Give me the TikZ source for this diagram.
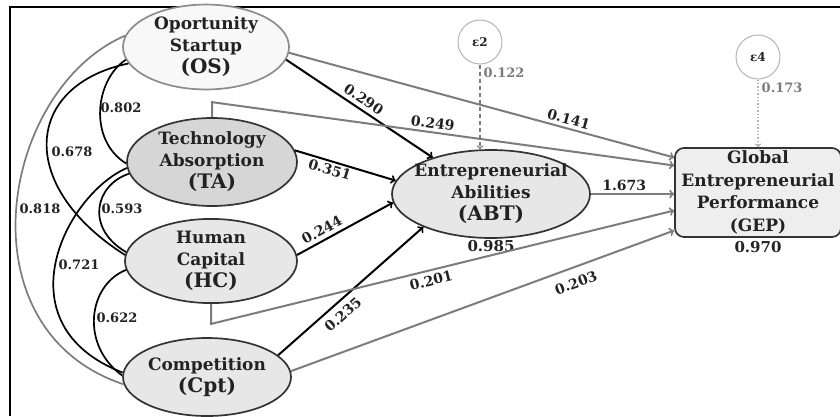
\documentclass[tikz,border=0pt]{standalone}
\usepackage{fontspec}
\setmainfont{DejaVu Serif}
\usetikzlibrary{shapes.geometric,positioning}

\begin{document}
\begin{tikzpicture}[x=1pt, y=-1pt,
  latent/.style={ellipse, draw=darkSEM, line width=1.7pt, inner sep=0pt, align=center,
    text=textSEM, font=\bfseries\fontsize{17}{22}\selectfont},
  effect/.style={->, line width=2pt, black},
  indirect/.style={->, line width=2pt, greySEM},
  corr/.style={line width=1.7pt},
  coef/.style={font=\bfseries\fontsize{14}{14}\selectfont, sloped, inner sep=2pt, text=textSEM},
  rval/.style={font=\bfseries\fontsize{13}{13}\selectfont, inner sep=1pt, text=textSEM},
  err/.style={circle, draw=lightgreySEM, line width=1pt, fill=white, minimum size=44pt,
    inner sep=0pt, text=textSEM, font=\bfseries\fontsize{12}{12}\selectfont}
]

\definecolor{textSEM}{HTML}{222222}
\definecolor{darkSEM}{HTML}{333333}
\definecolor{greySEM}{HTML}{7c7c7c}
\definecolor{midgreySEM}{HTML}{8c8c8c}
\definecolor{lightgreySEM}{HTML}{b5b5b5}
\definecolor{whiteSEM}{HTML}{f8f8f8}
\definecolor{fillTA}{HTML}{d6d6d6}
\definecolor{fillSEM}{HTML}{e7e7e7}
\definecolor{fillGEP}{HTML}{eeeeee}

\useasboundingbox (0,0) rectangle (840,416);
\draw[line width=2pt] (10,416) -- (10,7) -- (840,7);

% constructs
\node[latent, fill=whiteSEM, draw=midgreySEM, minimum width=166pt, minimum height=76pt] (OS) at (206,47)
  {Oportunity\\Startup\\{\fontsize{20}{22}\selectfont (OS)}};
\node[latent, fill=fillTA, minimum width=170pt, minimum height=88pt] (TA) at (212,162)
  {Technology\\Absorption\\{\fontsize{20}{22}\selectfont (TA)}};
\node[latent, fill=fillSEM, minimum width=172pt, minimum height=82pt] (HC) at (211,261)
  {Human\\Capital\\{\fontsize{20}{22}\selectfont (HC)}};
\node[latent, fill=fillSEM, minimum width=168pt, minimum height=78pt] (Cpt) at (207,377)
  {Competition\\{\fontsize{20}{22}\selectfont (Cpt)}};
\node[latent, fill=fillSEM, minimum width=198pt, minimum height=88pt, inner xsep=-12pt] (ABT) at (491,194)
  {Entrepreneurial\\Abilities\\{\fontsize{20}{22}\selectfont (ABT)}};
\node[draw=darkSEM, fill=fillGEP, line width=1.7pt, rounded corners=9pt, align=center, text=textSEM,
  minimum width=166pt, minimum height=89pt, inner sep=2pt,
  font=\bfseries\fontsize{17}{22.5}\selectfont] (GEP) at (758,192.5)
  {Global\\Entrepreneurial\\Performance\\(GEP)};

\node[err] (e2) at (480,42) {ε2};
\node[err] (e4) at (758,57) {ε4};

\node[rval, font=\bfseries\fontsize{15}{15}\selectfont, below=0pt of ABT] (rABT) {0.985};
\node[rval, font=\bfseries\fontsize{15}{15}\selectfont, below=2pt of GEP] (rGEP) {0.970};

% error terms
\draw[->, dash pattern=on 4pt off 3pt, line width=1.4pt, greySEM] (e2.south) -- node[rval, right, pos=0.1, text=greySEM, xshift=2pt] {0.122} (e2.south |- ABT.north);
\draw[->, dotted, line width=1.4pt, lightgreySEM] (e4.south) -- node[rval, right, pos=0.12, text=greySEM, xshift=2pt] {0.173} (GEP.north);

% paths into ABT
\draw[effect] (OS.-9) -- node[coef, above=2pt, pos=0.49] {0.290} (ABT.148);
\draw[effect] (TA.8) -- node[coef, below, pos=0.37] {0.351} (ABT.172);
\draw[effect] (HC.4) -- node[coef, above=2pt, pos=0.31] {0.244} (ABT.-175);
\draw[effect] (Cpt.17) -- node[coef, below=4pt, pos=0.39] {0.235} (ABT.206);

% paths into GEP
\draw[indirect] (OS.-4) -- node[coef, above=1pt, pos=0.72] {0.141} ([yshift=35pt]GEP.west);
\draw[indirect] (TA.north) -- ++(0,-15) -- node[coef, above=1pt, pos=0.475] {0.249} ([yshift=27pt]GEP.west);
\draw[indirect] (ABT.east) -- node[coef, above, pos=0.4] {1.673} (ABT.east -| GEP.west);
\draw[indirect] (HC.south) -- ++(0,20) -- node[coef, below=2pt, pos=0.47] {0.201} ([yshift=-18pt]GEP.west);
\draw[indirect] (Cpt.4) -- node[coef, below=7pt, pos=0.73] {0.203} ([yshift=-38pt]GEP.west);

% correlations
\draw[corr] (OS.189) .. controls (95,80) and (88,140) .. (TA.181);
\draw[corr] (OS.192) .. controls (25,85) and (15,185) .. (HC.176);
\draw[corr, greySEM] (OS.172) .. controls (0,90) and (-40,330) .. (Cpt.185);
\draw[corr] (TA.188) .. controls (95,185) and (85,228) .. (HC.174);
\draw[corr] (TA.184) .. controls (65,195) and (0,325) .. (Cpt.177);
\draw[corr] (HC.186) .. controls (88,285) and (80,345) .. (Cpt.179);

\node[rval] (c802) at (121,108) {0.802};
\node[rval] (c678) at (72,152) {0.678};
\node[rval] (c818) at (40,209) {0.818};
\node[rval] (c593) at (122,209) {0.593};
\node[rval] (c721) at (79,265) {0.721};
\node[rval] (c622) at (117,318) {0.622};

\end{tikzpicture}
\end{document}
